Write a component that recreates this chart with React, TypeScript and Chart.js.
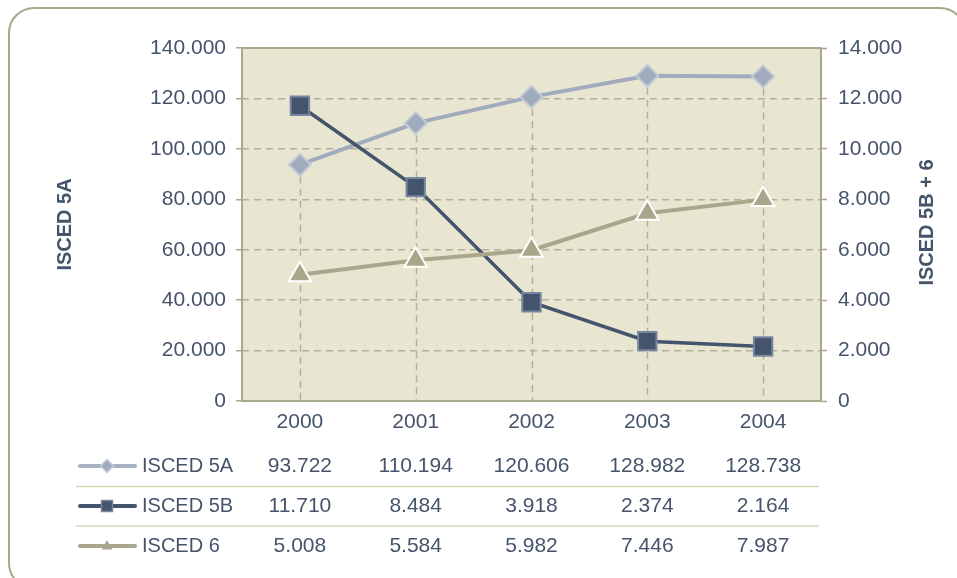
import React, { useEffect, useRef } from "react";
import { Chart, registerables } from "chart.js";

Chart.register(...registerables);

// ---- data ----
const years = ["2000", "2001", "2002", "2003", "2004"];
const isced5A = [93722, 110194, 120606, 128982, 128738];
const isced5B = [11710, 8484, 3918, 2374, 2164];
const isced6 = [5008, 5584, 5982, 7446, 7987];
const seriesNames = ["ISCED 5A", "ISCED 5B", "ISCED 6"];
const leftTitle = "ISCED 5A";
const rightTitle = "ISCED 5B + 6";
const leftMax = 140000;
const leftStep = 20000;
const rightMax = 14000;
const rightStep = 2000;

// ---- styles ----
const FONT = "'Liberation Sans', Arial, sans-serif";
const TEXT = "#46546b";
const C5A = "#a0abbd";
const C5A_B = "#c4cbd7";
const C5B = "#44546c";
const C5B_B = "#7886a0";
const C6 = "#a9a78b";
const GRID = "#b2b09a";
const PLOT_BG = "#e8e6d1";
const PLOT_BORDER = "#a9a78c";
const SEP = "#d9d6b2";

function fmt(n: number): string {
  return String(Math.round(n)).replace(/\B(?=(\d{3})+(?!\d))/g, ".");
}

function marker(
  ctx: CanvasRenderingContext2D,
  kind: string,
  x: number,
  y: number,
  r: number,
  fill: string,
  stroke: string,
  lw: number
) {
  ctx.save();
  ctx.beginPath();
  if (kind === "diamond") {
    ctx.moveTo(x, y - r);
    ctx.lineTo(x + r, y);
    ctx.lineTo(x, y + r);
    ctx.lineTo(x - r, y);
  } else if (kind === "square") {
    ctx.rect(x - r, y - r, 2 * r, 2 * r);
  } else {
    ctx.moveTo(x, y - r);
    ctx.lineTo(x + r * 0.9, y + r * 0.6);
    ctx.lineTo(x - r * 0.9, y + r * 0.6);
  }
  ctx.closePath();
  ctx.fillStyle = fill;
  ctx.fill();
  if (lw > 0) {
    ctx.lineWidth = lw;
    ctx.strokeStyle = stroke;
    ctx.stroke();
  }
  ctx.restore();
}

const decorPlugin = {
  id: "decor",
  beforeDraw(chart: any) {
    const { ctx, chartArea: a } = chart;
    ctx.save();
    ctx.fillStyle = PLOT_BG;
    ctx.fillRect(a.left, a.top, a.right - a.left, a.bottom - a.top);
    ctx.restore();
  },
  beforeDatasetsDraw(chart: any) {
    const { ctx, chartArea: a } = chart;
    ctx.save();
    // drop lines from the primary series
    const meta = chart.getDatasetMeta(0);
    ctx.strokeStyle = GRID;
    ctx.lineWidth = 1.5;
    ctx.setLineDash([7, 5]);
    meta.data.forEach((p: any) => {
      ctx.beginPath();
      ctx.moveTo(Math.round(p.x) + 0.5, p.y);
      ctx.lineTo(Math.round(p.x) + 0.5, a.bottom);
      ctx.stroke();
    });
    ctx.setLineDash([]);
    // plot border
    ctx.strokeStyle = PLOT_BORDER;
    ctx.lineWidth = 2;
    ctx.strokeRect(a.left, a.top, a.right - a.left, a.bottom - a.top);
    ctx.restore();
  },
  afterDraw(chart: any) {
    const { ctx, chartArea: a } = chart;
    const xs = chart.scales.x;
    ctx.save();
    // axis titles
    ctx.fillStyle = TEXT;
    ctx.font = `bold 20px ${FONT}`;
    ctx.textAlign = "center";
    ctx.textBaseline = "middle";
    const cy = (a.top + a.bottom) / 2;
    ctx.save();
    ctx.translate(65, cy);
    ctx.rotate(-Math.PI / 2);
    ctx.fillText(leftTitle, 0, 0);
    ctx.restore();
    ctx.save();
    ctx.translate(927, cy - 2);
    ctx.rotate(-Math.PI / 2);
    ctx.fillText(rightTitle, 0, 0);
    ctx.restore();

    // data table
    const rowY = [466, 506, 546];
    const rows = [isced5A, isced5B, isced6];
    // separators
    ctx.strokeStyle = SEP;
    ctx.lineWidth = 1.5;
    [486.5, 526].forEach((y) => {
      ctx.beginPath();
      ctx.moveTo(76, y);
      ctx.lineTo(819, y);
      ctx.stroke();
    });
    // legend swatches
    const swatch = [
      { color: "#a8b2c3", lw: 4, kind: "diamond", r: 6.5, fill: C5A, stroke: C5A_B, mlw: 1.5 },
      { color: C5B, lw: 4, kind: "square", r: 5.5, fill: C5B, stroke: C5B_B, mlw: 1.5 },
      { color: C6, lw: 4, kind: "triangle", r: 6, fill: C6, stroke: "#fff", mlw: 0 },
    ];
    rows.forEach((vals, r) => {
      const y = rowY[r];
      const s = swatch[r];
      ctx.strokeStyle = s.color;
      ctx.lineWidth = s.lw;
      ctx.lineCap = "round";
      ctx.beginPath();
      ctx.moveTo(80, y);
      ctx.lineTo(135, y);
      ctx.stroke();
      marker(ctx, s.kind, 107, y, s.r, s.fill, s.stroke, s.mlw);
      ctx.fillStyle = TEXT;
      ctx.font = `20px ${FONT}`;
      ctx.textAlign = "left";
      ctx.textBaseline = "middle";
      ctx.fillText(seriesNames[r], 142, y);
      ctx.font = `21px ${FONT}`;
      ctx.textAlign = "center";
      vals.forEach((v, i) => {
        ctx.fillText(fmt(v), xs.getPixelForValue(i), y);
      });
    });
    ctx.restore();
  },
};

export default function App() {
  const ref = useRef<HTMLCanvasElement | null>(null);

  useEffect(() => {
    if (!ref.current) return;
    const tickFont = { family: FONT, size: 21 };
    const chart = new Chart(ref.current, {
      type: "line",
      data: {
        labels: years,
        datasets: [
          {
            label: seriesNames[0],
            data: isced5A,
            yAxisID: "y",
            borderColor: C5A,
            backgroundColor: C5A,
            borderWidth: 4,
            pointStyle: "rectRot",
            pointRadius: 11,
            pointBackgroundColor: C5A,
            pointBorderColor: C5A_B,
            pointBorderWidth: 2,
            tension: 0,
            order: 3,
          },
          {
            label: seriesNames[1],
            data: isced5B,
            yAxisID: "y2",
            borderColor: C5B,
            backgroundColor: C5B,
            borderWidth: 3.5,
            pointStyle: "rect",
            pointRadius: 13,
            pointBackgroundColor: C5B,
            pointBorderColor: C5B_B,
            pointBorderWidth: 2,
            tension: 0,
            order: 2,
          },
          {
            label: seriesNames[2],
            data: isced6,
            yAxisID: "y2",
            borderColor: C6,
            backgroundColor: C6,
            borderWidth: 4,
            pointStyle: "triangle",
            pointRadius: 13,
            pointBackgroundColor: C6,
            pointBorderColor: "#ffffff",
            pointBorderWidth: 2,
            tension: 0,
            order: 1,
          },
        ],
      },
      options: {
        responsive: false,
        animation: false,
        devicePixelRatio: 1,
        layout: { padding: { top: 48, left: 0, right: 0, bottom: 0 }, autoPadding: false },
        plugins: {
          legend: { display: false },
          tooltip: { enabled: false },
          title: { display: false },
        },
        scales: {
          x: {
            type: "category",
            offset: true,
            grid: { display: false },
            border: { display: false },
            ticks: { color: TEXT, font: tickFont, padding: 1, maxRotation: 0 },
            afterFit: (s: any) => {
              s.height = 177;
            },
          },
          y: {
            position: "left",
            min: 0,
            max: leftMax,
            ticks: {
              stepSize: leftStep,
              color: TEXT,
              font: tickFont,
              padding: 10,
              callback: (v: any) => fmt(Number(v)),
            },
            grid: {
              color: GRID,
              lineWidth: 1.5,
              tickColor: PLOT_BORDER,
              tickLength: 6,
              tickWidth: 1.5,
            },
            border: { display: false, dash: [7, 5] },
            afterFit: (s: any) => {
              s.width = 242;
            },
          },
          y2: {
            position: "right",
            min: 0,
            max: rightMax,
            ticks: {
              stepSize: rightStep,
              color: TEXT,
              font: tickFont,
              padding: 11,
              callback: (v: any) => fmt(Number(v)),
            },
            grid: {
              drawOnChartArea: false,
              tickColor: PLOT_BORDER,
              tickLength: 6,
              tickWidth: 1.5,
            },
            border: { display: false },
            afterFit: (s: any) => {
              s.width = 136;
            },
          },
        },
      },
      plugins: [decorPlugin],
    } as any);
    return () => chart.destroy();
  }, []);

  return (
    <div
      style={{
        position: "fixed",
        left: 0,
        top: 0,
        width: 957,
        height: 578,
        overflow: "hidden",
        background: "#ffffff",
      }}
    >
      <div
        style={{
          position: "absolute",
          left: 8,
          top: 7,
          width: 958,
          height: 582,
          border: "2px solid #a9a78c",
          borderRadius: 26,
          boxSizing: "border-box",
        }}
      />
      <canvas
        ref={ref}
        width={957}
        height={578}
        style={{ position: "absolute", left: 0, top: 0, width: 957, height: 578 }}
      />
    </div>
  );
}
